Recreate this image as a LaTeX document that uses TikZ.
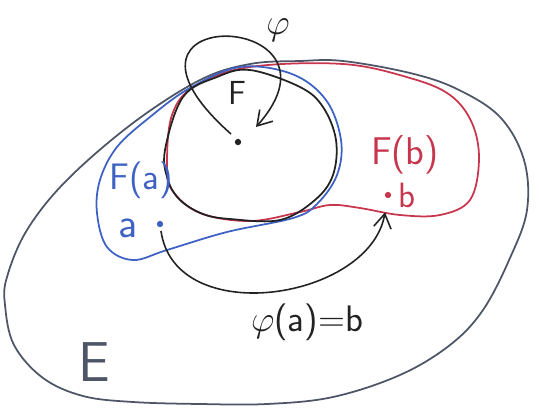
\documentclass[tikz,border=0pt]{standalone}
\usetikzlibrary{arrows.meta, positioning}
\definecolor{bordeE}{HTML}{4D5566}
\definecolor{azulFa}{HTML}{3D62C4}
\definecolor{rojoFb}{HTML}{C8364E}
\definecolor{trazo}{HTML}{222222}

\begin{document}
\begin{tikzpicture}[
  x=0.02cm, y=-0.02cm,
  font=\sffamily,
  conjunto/.style={line width=1pt, line join=round},
  punto/.style={circle, fill, inner sep=0pt, minimum size=3.6pt},
  etiqueta/.style={inner sep=1pt},
  grande/.style={font=\sffamily\fontsize{#1}{#1}\selectfont},
  flecha/.style={-{Straight Barb[length=8pt, width=10pt]}, draw=trazo, line width=0.9pt}
]
\useasboundingbox (0,0) rectangle (539,407);

\draw[conjunto, draw=bordeE] plot[smooth cycle, tension=0.6] coordinates {
  (7,277) (27,230) (67,180) (133,123) (200,80) (250,64) (300,61) (343,61)
  (410,73) (457,89) (500,117) (524,160) (527,210) (510,258) (483,310)
  (450,345) (400,375) (333,397) (267,404) (200,404) (133,402) (83,396)
  (43,378) (14,345) (5,305)};

\draw[conjunto, draw=rojoFb] plot[smooth cycle, tension=0.6] coordinates {
  (167,165) (172,115) (195,86) (250,67) (343,64) (410,78) (450,95)
  (472,123) (479,160) (470,200) (440,215) (400,215) (360,208) (330,205)
  (300,212) (250,221) (200,213) (172,190)};

\draw[conjunto, draw=azulFa] plot[smooth cycle, tension=0.6] coordinates {
  (240,67) (292,74) (326,100) (341,140) (337,175) (317,204) (293,218)
  (227,232) (167,250) (133,260) (107,247) (97,213) (100,180) (117,147)
  (150,117) (190,88)};

\draw[conjunto, draw=trazo] plot[smooth cycle, tension=0.6] coordinates {
  (165,150) (183,97) (217,77) (250,70) (300,87) (323,107) (336,140)
  (333,175) (315,200) (280,220) (230,219) (203,214) (180,200) (168,180)};

\node[etiqueta, grande=32, text=bordeE] (E) at (94,362) {E};
\node[etiqueta, grande=19, text=trazo] (F) at (237,93) {F};
\node[punto, fill=trazo] (fdot) at (238,142) {};
\node[etiqueta, grande=22, text=trazo] (phi) at (278,30) {$\varphi$};

\node[etiqueta, grande=21, text=azulFa] (Fa) at (141,180) {F(a)};
\node[etiqueta, grande=24, text=azulFa] (a) at (128,228) {a};
\node[punto, fill=azulFa] (adot) at (160,224) {};

\node[etiqueta, grande=22, text=rojoFb] (Fb) at (405,155) {F(b)};
\node[punto, fill=rojoFb] (bdot) at (388,195) {};
\node[etiqueta, grande=20, text=rojoFb, right=0.1cm of bdot] (b) {b};

\node[etiqueta, grande=21, text=trazo] (img) at (307,322) {$\varphi$(a)=b};

\coordinate (lazoIni) at (231,134);
\coordinate (lazoFin) at (256,127);
\draw[flecha] (lazoIni) .. controls (80,0) and (360,10) .. (lazoFin);
\draw[flecha, shorten <=2pt, shorten >=8pt] (adot) .. controls (175,330) and (370,300) .. (bdot);

\end{tikzpicture}
\end{document}
